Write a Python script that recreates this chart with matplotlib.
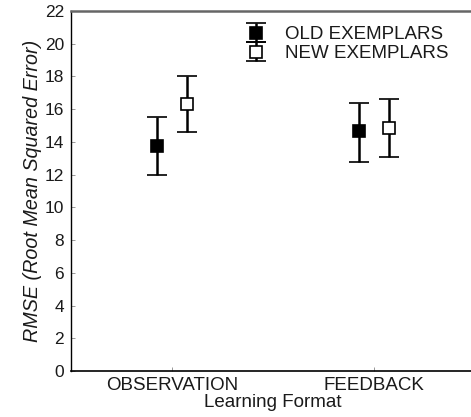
import matplotlib
matplotlib.use("Agg")
import matplotlib.pyplot as plt
import numpy as np

plt.rcParams['font.family'] = ['Liberation Sans', 'DejaVu Sans']

categories = ["OBSERVATION", "FEEDBACK"]
series_names = ["OLD EXEMPLARS", "NEW EXEMPLARS"]
old_mean = [13.75, 14.65]
old_low = [12.0, 12.8]
old_high = [15.5, 16.4]
new_mean = [16.3, 14.85]
new_low = [14.6, 13.08]
new_high = [18.05, 16.6]
yticks = [0, 2, 4, 6, 8, 10, 12, 14, 16, 18, 20, 22]

fig = plt.figure(figsize=(4.71, 4.17), dpi=100)
ax = fig.add_axes([71/471, 1-371/417, 404/471, 360/417])

x = np.arange(len(categories))
off = 0.074
for xs, m, lo, hi, face, name in [
    (x - off, old_mean, old_low, old_high, 'black', series_names[0]),
    (x + off, new_mean, new_low, new_high, 'white', series_names[1]),
]:
    m = np.array(m); lo = np.array(lo); hi = np.array(hi)
    ax.errorbar(xs, m, yerr=[m - lo, hi - m], fmt='s', color='black',
                mfc=face, mec='black', ms=8, mew=1.2, elinewidth=1.8,
                capsize=7, capthick=1.8, label=name)

ax.set_xlim(-0.5, 1.5)
ax.set_ylim(0, 22)
ax.set_xticks(x)
ax.set_xticklabels(categories, fontsize=13.5)
ax.set_yticks(yticks)
ax.tick_params(axis='y', labelsize=12.5, pad=5)
ax.tick_params(axis='x', pad=4)
ax.tick_params(direction='in', length=3, width=0.6, colors='#888888',
               labelcolor='#1a1a1a')
ax.spines['top'].set_color('#666666')
ax.spines['top'].set_linewidth(1.8)
ax.spines['right'].set_visible(False)
ax.spines['left'].set_color('black')
ax.spines['bottom'].set_color('black')
ax.spines['left'].set_linewidth(1.0)
ax.spines['bottom'].set_linewidth(1.2)
ax.set_xlabel('Learning Format', fontsize=13.5, labelpad=0, color='#1a1a1a')
ax.set_ylabel('RMSE (Root Mean Squared Error)', fontsize=14.2, labelpad=2,
              fontstyle='italic', color='#1a1a1a')

leg = ax.legend(loc='upper left', bbox_to_anchor=(0.375, 0.994), frameon=False,
                fontsize=13.5, handlelength=2.2, handletextpad=0.45,
                labelspacing=0.1, borderaxespad=0.3)
for t in leg.get_texts():
    t.set_color('#1a1a1a')

fig.savefig('out.png', dpi=100)
